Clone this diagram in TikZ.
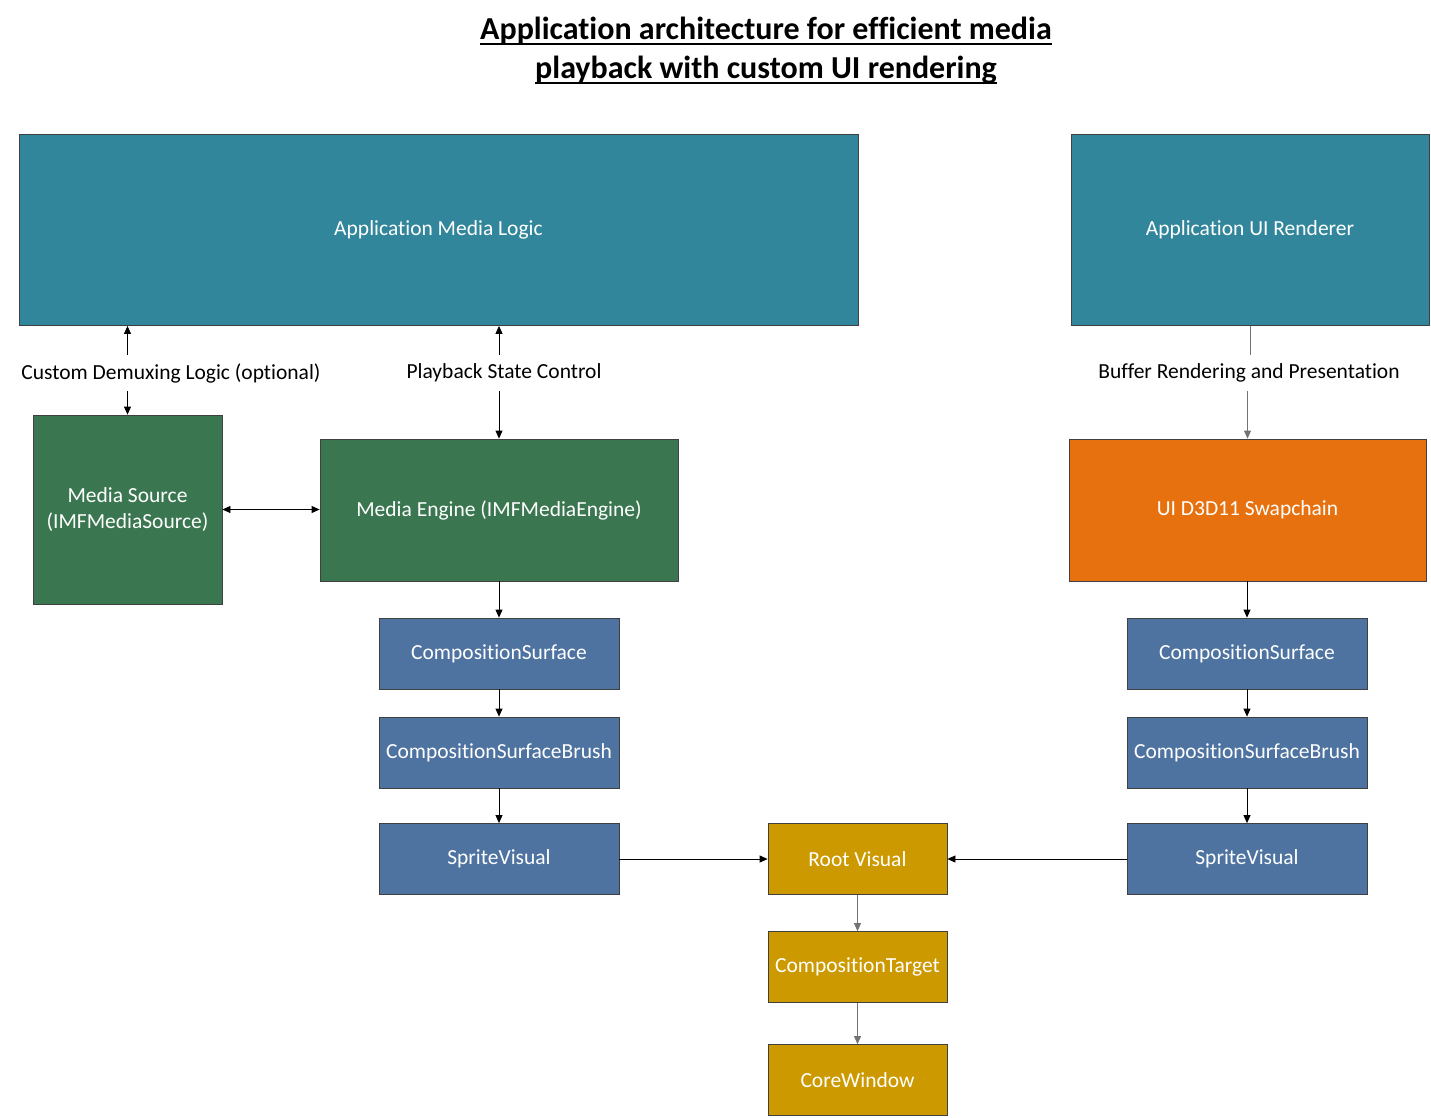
\documentclass[tikz,border=0pt]{standalone}
\usepackage{fontspec}
\setmainfont{Carlito}[Ligatures=NoCommon]
\usepackage{tikz}
\usetikzlibrary{arrows.meta}
\usepackage{xcolor}
\definecolor{tealbox}{HTML}{31869B}
\definecolor{greenbox}{HTML}{3A7650}
\definecolor{bluebox}{HTML}{4E73A0}
\definecolor{orangebox}{HTML}{E8710F}
\definecolor{goldbox}{HTML}{CC9900}
\newcommand{\titleline}[1]{\setbox0\hbox{#1}\rlap{\rule[-5.5pt]{\wd0}{2.4pt}}\box0}

\begin{document}
\begin{tikzpicture}[x=1pt,y=-1pt,
    box/.style={draw=black!75, line width=0.8pt, text=white, inner sep=0pt,
        font=\fontsize{21.5}{26}\selectfont, align=center},
    lbl/.style={inner sep=0pt, minimum height=36pt, font=\fontsize{21.5}{26}\selectfont},
    arr/.style={-{Triangle[length=8pt,width=7pt]}, line width=0.8pt},
    grayarr/.style={arr, draw=black!55}]
    \useasboundingbox (0,0) rectangle (1431,1117);
    % Titulo
    \node (title) at (766,51) [align=center, font=\fontsize{32}{39}\selectfont\bfseries]
        {\titleline{Application architecture for efficient media}\\
         \titleline{playback with custom UI rendering}};
    % Caixas de topo
    \node (aml) at (438.5,230) [box, fill=tealbox, minimum width=839pt, minimum height=191pt] {Application Media Logic};
    \node (aur) at (1250,230) [box, fill=tealbox, minimum width=358pt, minimum height=191pt] {Application UI Renderer};
    % Rotulos
    \node (demux) at (171,373) [lbl] {Custom Demuxing Logic (optional)};
    \node (playback) at (504,373) [lbl] {Playback State Control};
    \node (buffer) at (1249,373) [lbl] {Buffer Rendering and Presentation};
    % Media
    \node (ms) at (127.5,509.5) [box, fill=greenbox, minimum width=189pt, minimum height=189pt] {Media Source\\(IMFMediaSource)};
    \node (me) at (499,510) [box, fill=greenbox, minimum width=358pt, minimum height=142pt] {Media Engine (IMFMediaEngine)};
    \node (swap) at (1247.5,510) [box, fill=orangebox, minimum width=357pt, minimum height=142pt] {UI D3D11 Swapchain};
    % Colunas de composicao
    \node (csL) at (499,653.5) [box, fill=bluebox, minimum width=240pt, minimum height=71pt] {CompositionSurface};
    \node (cbL) at (499,752.5) [box, fill=bluebox, minimum width=240pt, minimum height=71pt] {CompositionSurfaceBrush};
    \node (svL) at (499,859) [box, fill=bluebox, minimum width=240pt, minimum height=71pt] {SpriteVisual};
    \node (csR) at (1247,653.5) [box, fill=bluebox, minimum width=240pt, minimum height=71pt] {CompositionSurface};
    \node (cbR) at (1247,752.5) [box, fill=bluebox, minimum width=240pt, minimum height=71pt] {CompositionSurfaceBrush};
    \node (svR) at (1247,859) [box, fill=bluebox, minimum width=240pt, minimum height=71pt] {SpriteVisual};
    % Arvore visual
    \node (rv) at (857.5,859) [box, fill=goldbox, minimum width=179pt, minimum height=71pt] {Root Visual};
    \node (ct) at (857.5,967) [box, fill=goldbox, minimum width=179pt, minimum height=71pt] {CompositionTarget};
    \node (cw) at (857.5,1080) [box, fill=goldbox, minimum width=179pt, minimum height=71pt] {CoreWindow};
    % Setas
    \draw[arr] (ms.north |- demux.north) -- (ms.north |- aml.south);
    \draw[arr] (ms.north |- demux.south) -- (ms.north);
    \draw[arr] (me.north |- playback.north) -- (me.north |- aml.south);
    \draw[arr] (me.north |- playback.south) -- (me.north);
    \draw[line width=0.8pt, black!55] (aur.south) -- (aur.south |- buffer.north);
    \draw[grayarr] (swap.north |- buffer.south) -- (swap.north);
    \draw[{Triangle[length=8pt,width=7pt]}-{Triangle[length=8pt,width=7pt]}, line width=0.8pt] (ms.east) -- (ms.east -| me.west);
    \draw[arr] (me.south) -- (csL.north);
    \draw[arr] (csL) -- (cbL);
    \draw[arr] (cbL) -- (svL);
    \draw[arr] (swap.south -| csR.north) -- (csR.north);
    \draw[arr] (csR) -- (cbR);
    \draw[arr] (cbR) -- (svR);
    \draw[arr] (svL) -- (rv);
    \draw[arr] (svR) -- (rv);
    \draw[grayarr] (rv) -- (ct);
    \draw[grayarr] (ct) -- (cw);
\end{tikzpicture}
\end{document}
